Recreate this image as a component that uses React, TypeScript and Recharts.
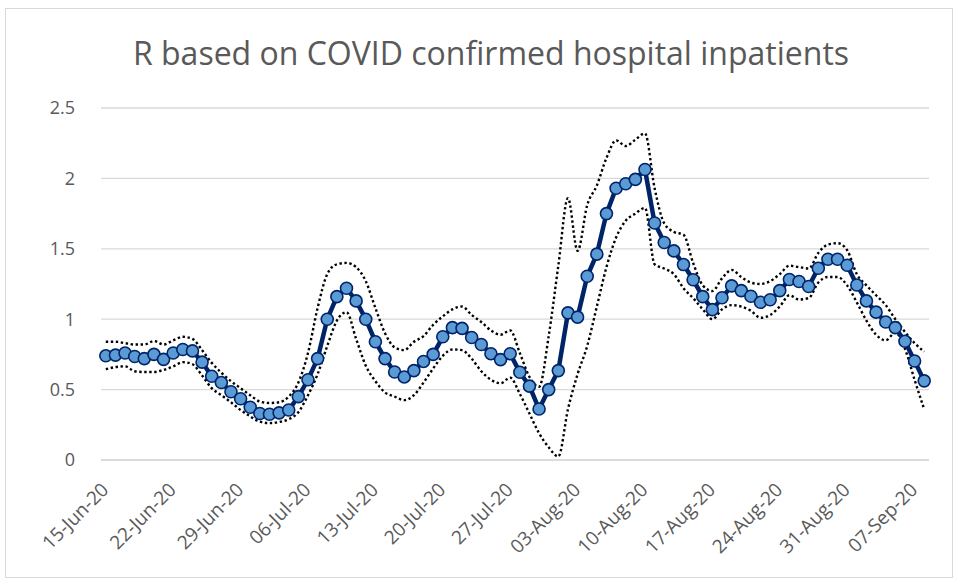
import React from "react";
import { LineChart, Line, XAxis, YAxis, CartesianGrid } from "recharts";

const categories = [
  "15-Jun-20","16-Jun-20","17-Jun-20","18-Jun-20","19-Jun-20","20-Jun-20","21-Jun-20","22-Jun-20","23-Jun-20","24-Jun-20",
  "25-Jun-20","26-Jun-20","27-Jun-20","28-Jun-20","29-Jun-20","30-Jun-20","01-Jul-20","02-Jul-20","03-Jul-20","04-Jul-20",
  "05-Jul-20","06-Jul-20","07-Jul-20","08-Jul-20","09-Jul-20","10-Jul-20","11-Jul-20","12-Jul-20","13-Jul-20","14-Jul-20",
  "15-Jul-20","16-Jul-20","17-Jul-20","18-Jul-20","19-Jul-20","20-Jul-20","21-Jul-20","22-Jul-20","23-Jul-20","24-Jul-20",
  "25-Jul-20","26-Jul-20","27-Jul-20","28-Jul-20","29-Jul-20","30-Jul-20","31-Jul-20","01-Aug-20","02-Aug-20","03-Aug-20",
  "04-Aug-20","05-Aug-20","06-Aug-20","07-Aug-20","08-Aug-20","09-Aug-20","10-Aug-20","11-Aug-20","12-Aug-20","13-Aug-20",
  "14-Aug-20","15-Aug-20","16-Aug-20","17-Aug-20","18-Aug-20","19-Aug-20","20-Aug-20","21-Aug-20","22-Aug-20","23-Aug-20",
  "24-Aug-20","25-Aug-20","26-Aug-20","27-Aug-20","28-Aug-20","29-Aug-20","30-Aug-20","31-Aug-20","01-Sep-20","02-Sep-20",
  "03-Sep-20","04-Sep-20","05-Sep-20","06-Sep-20","07-Sep-20","08-Sep-20",
];

const rValues = [
  0.74,0.745,0.76,0.735,0.72,0.75,0.715,0.76,0.785,0.775,
  0.695,0.595,0.55,0.485,0.435,0.375,0.33,0.325,0.335,0.355,
  0.45,0.57,0.72,1.0,1.16,1.22,1.13,1.0,0.84,0.72,
  0.625,0.59,0.635,0.7,0.75,0.875,0.94,0.935,0.87,0.82,
  0.755,0.713,0.755,0.623,0.525,0.362,0.5,0.635,1.045,1.015,
  1.305,1.462,1.75,1.93,1.962,1.993,2.063,1.683,1.545,1.485,
  1.388,1.28,1.16,1.068,1.152,1.237,1.203,1.163,1.12,1.138,
  1.203,1.282,1.268,1.232,1.362,1.426,1.426,1.383,1.243,1.13,
  1.05,0.98,0.94,0.843,0.703,0.562,
];

const upperValues = [
  0.84,0.84,0.83,0.82,0.82,0.845,0.82,0.85,0.875,0.86,
  0.78,0.69,0.62,0.56,0.51,0.46,0.415,0.405,0.41,0.45,
  0.55,0.76,1.08,1.32,1.39,1.4,1.37,1.27,1.08,0.9,
  0.8,0.78,0.84,0.88,0.96,1.02,1.07,1.09,1.03,0.98,
  0.92,0.89,0.92,0.76,0.59,0.52,0.88,1.38,1.86,1.485,
  1.81,1.95,2.145,2.27,2.23,2.275,2.32,1.93,1.68,1.62,
  1.6,1.4,1.24,1.2,1.29,1.35,1.3,1.26,1.25,1.27,
  1.32,1.38,1.37,1.36,1.47,1.53,1.54,1.49,1.32,1.24,
  1.17,1.1,1.0,0.91,0.83,0.77,
];

const lowerValues = [
  0.645,0.66,0.665,0.63,0.625,0.625,0.64,0.665,0.695,0.68,
  0.6,0.51,0.46,0.41,0.355,0.31,0.272,0.262,0.27,0.29,
  0.34,0.46,0.61,0.81,0.99,1.05,0.86,0.67,0.56,0.48,
  0.45,0.425,0.46,0.55,0.65,0.74,0.785,0.78,0.72,0.63,
  0.57,0.545,0.585,0.47,0.33,0.19,0.09,0.025,0.36,0.61,
  0.81,1.09,1.37,1.58,1.7,1.75,1.79,1.39,1.36,1.32,
  1.22,1.15,1.07,1.0,1.07,1.1,1.09,1.06,1.01,1.03,
  1.09,1.17,1.14,1.15,1.26,1.3,1.3,1.24,1.12,0.99,
  0.89,0.85,0.905,0.79,0.57,0.36,
];

const yTicks = [0, 0.5, 1, 1.5, 2, 2.5];
const title = "R based on COVID confirmed hospital inpatients";

const data = categories.map((c, i) => ({
  date: c,
  r: rValues[i],
  upper: upperValues[i],
  lower: lowerValues[i],
}));

const FONT = "'Open Sans', 'Noto Sans', sans-serif";
const TEXT = "#595959";

const XTick = (props: any) => {
  const { x, payload } = props;
  const ax = x + 4;
  const ay = 491;
  return (
    <text
      x={ax}
      y={ay}
      textAnchor="end"
      transform={`rotate(-45 ${ax} ${ay})`}
      fill={TEXT}
      fontSize={19}
      fontFamily={FONT}
    >
      {payload.value}
    </text>
  );
};

const YTick = (props: any) => {
  const { y, payload } = props;
  return (
    <text x={75} y={y} dy="0.36em" textAnchor="end" fill={TEXT} fontSize={18} fontFamily={FONT}>
      {payload.value}
    </text>
  );
};

export default function App() {
  return (
    <div style={{ position: "absolute", left: 0, top: 0, width: 961, height: 585, background: "#fff" }}>
      <div
        style={{
          position: "absolute",
          left: 5,
          top: 8,
          width: 948,
          height: 570,
          border: "1px solid #d9d9d9",
          boxSizing: "border-box",
        }}
      />
      <LineChart
        width={961}
        height={585}
        data={data}
        margin={{ top: 108, right: 32, left: 0, bottom: 0 }}
        style={{ position: "absolute", left: 0, top: 0 }}
      >
        <CartesianGrid horizontal={true} vertical={false} stroke="#d9d9d9" strokeWidth={1.3} />
        <XAxis
          dataKey="date"
          interval={6}
          tick={<XTick />}
          tickLine={false}
          axisLine={{ stroke: "#d9d9d9", strokeWidth: 1.3 }}
          height={125}
          padding={{ left: 4.8, right: 4.8 }}
        />
        <YAxis
          domain={[0, 2.5]}
          ticks={yTicks}
          tick={<YTick />}
          tickLine={false}
          axisLine={false}
          width={101}
        />
        <Line
          type="monotone"
          dataKey="upper"
          stroke="#000"
          strokeWidth={2.4}
          strokeDasharray="2.4 2.6"
          dot={false}
          isAnimationActive={false}
        />
        <Line
          type="monotone"
          dataKey="lower"
          stroke="#000"
          strokeWidth={2.4}
          strokeDasharray="2.4 2.6"
          dot={false}
          isAnimationActive={false}
        />
        <Line
          type="linear"
          dataKey="r"
          stroke="#002468"
          strokeWidth={4.5}
          dot={{ r: 6, fill: "#5b9bd5", stroke: "#002468", strokeWidth: 1.6 }}
          isAnimationActive={false}
        />
      </LineChart>
      <svg width={961} height={100} style={{ position: "absolute", left: 0, top: 0, pointerEvents: "none" }}>
        <text x={491} y={65} textAnchor="middle" fill={TEXT} fontSize={32} fontFamily={FONT}>
          {title}
        </text>
      </svg>
    </div>
  );
}
